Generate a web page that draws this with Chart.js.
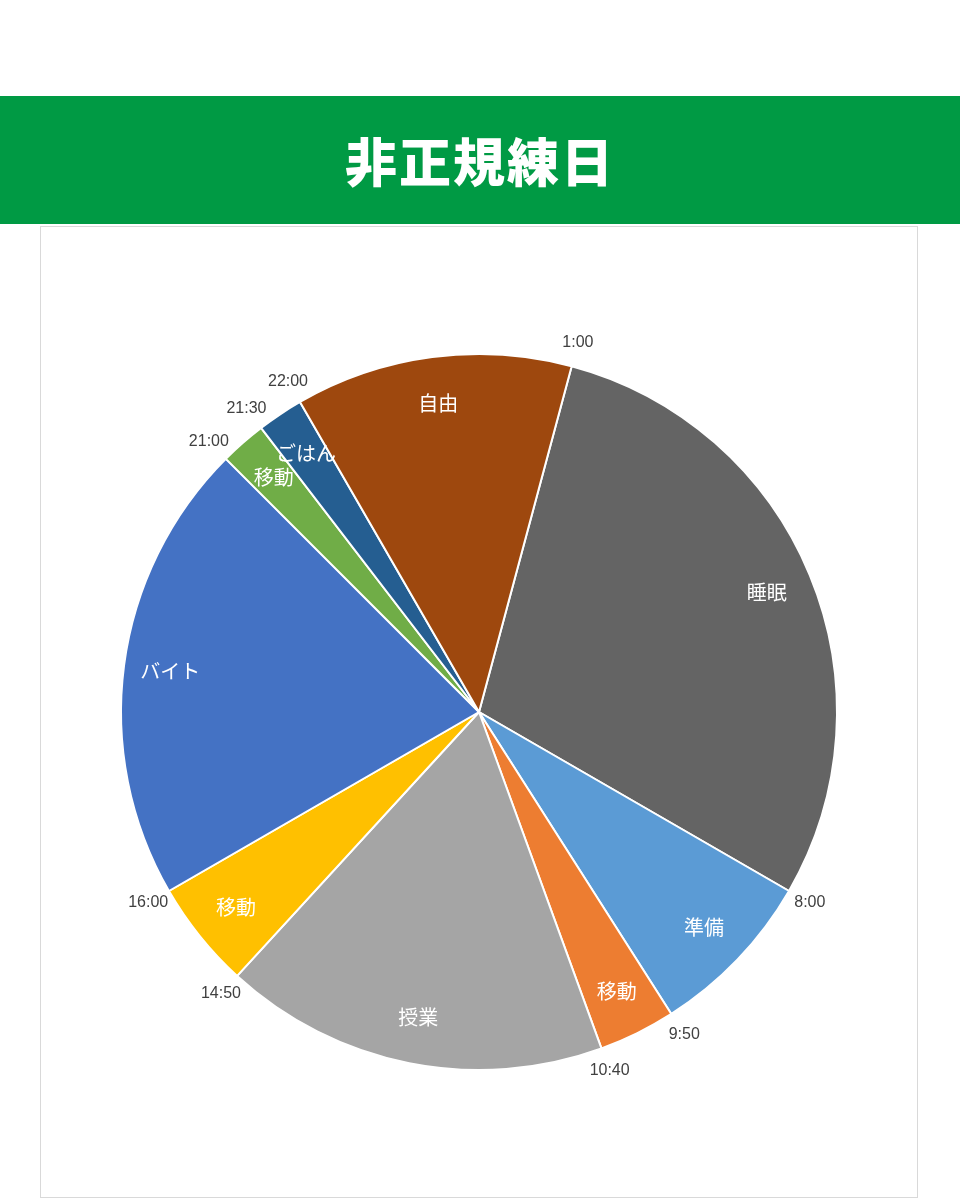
<!DOCTYPE html>
<html><head><meta charset="utf-8">
<script src="https://cdn.jsdelivr.net/npm/chart.js@4"></script>
<style>
body{margin:0;width:960px;height:1200px;background:#fff;position:relative;font-family:"Noto Sans CJK JP",sans-serif}
#bar{position:absolute;left:0;top:96px;width:960px;height:128px;background:#009A44;color:#fff;font-weight:900;font-size:52px;text-align:center;line-height:128px;letter-spacing:2px}
#card{position:absolute;left:40px;top:226px;width:878px;height:972px;border:1px solid #d9d9d9;box-sizing:border-box}
</style></head><body>
<div id="bar">非正規練日</div>
<div id="card"><canvas id="c" width="876" height="970"></canvas></div>
<script>
const labels = ['睡眠','準備','移動','授業','移動','バイト','移動','ごはん','自由'];
const minutes = [420,110,50,250,70,300,30,30,180];
const startTimes = ['1:00','8:00','9:50','10:40','14:50','16:00','21:00','21:30','22:00'];
const colors = ['#646464','#5B9BD5','#ED7D31','#A5A5A5','#FFC000','#4472C4','#70AD47','#255E91','#9E480E'];

const labelPlugin = {
  id: 'labels',
  afterDatasetsDraw(chart) {
    const ctx = chart.ctx;
    const arcs = chart.getDatasetMeta(0).data;
    ctx.save();
    ctx.textAlign = 'center';
    ctx.textBaseline = 'middle';
    arcs.forEach((a, i) => {
      const { x, y, startAngle, endAngle, outerRadius } = a.getProps(['x','y','startAngle','endAngle','outerRadius'], true);
      const mid = (startAngle + endAngle) / 2;
      const r = outerRadius * 0.87;
      ctx.fillStyle = '#fff';
      ctx.font = '20px "Noto Sans CJK JP"';
      ctx.fillText(labels[i], x + Math.cos(mid) * r, y + Math.sin(mid) * r);
      const ro = outerRadius + 24;
      ctx.fillStyle = '#404040';
      ctx.font = '16px "Liberation Sans", Arial';
      ctx.fillText(startTimes[i], x + Math.cos(startAngle) * ro, y + Math.sin(startAngle) * ro);
    });
    ctx.restore();
  }
};

new Chart(document.getElementById('c'), {
  type: 'pie',
  data: { labels: labels, datasets: [{ data: minutes, backgroundColor: colors, borderColor: '#fff', borderWidth: 2 }] },
  options: {
    responsive: false,
    animation: false,
    rotation: 15,
    layout: { padding: { left: 79, right: 79, top: 125, bottom: 125 } },
    plugins: { legend: { display: false }, tooltip: { enabled: false } }
  },
  plugins: [labelPlugin]
});
</script>
</body></html>
